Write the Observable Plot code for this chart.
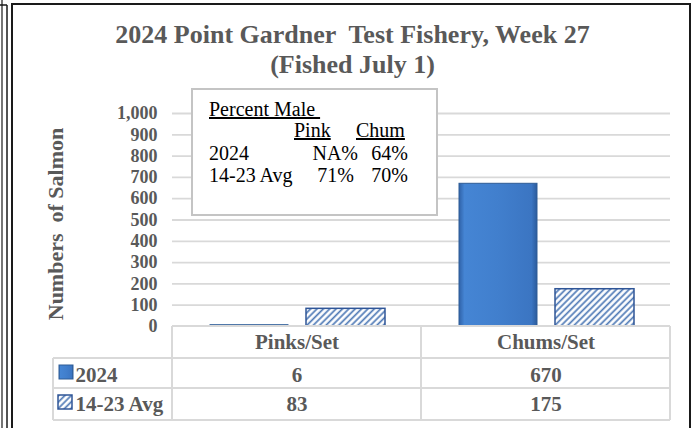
<!DOCTYPE html>
<html><head><meta charset="utf-8">
<script src="https://cdn.jsdelivr.net/npm/d3@7"></script>
<script src="https://cdn.jsdelivr.net/npm/@observablehq/plot@0.6"></script>
<style>
html,body{margin:0;padding:0;background:#fff;}
#chart{width:693px;height:428px;overflow:hidden;}
</style></head><body><div id="chart"></div>
<script>
// ---- data ----
const categories = ["Pinks/Set", "Chums/Set"];
const seriesNames = ["2024", "14-23 Avg"];
const values2024 = [6, 670];
const valuesAvg = [83, 175];
const yTickValues = [0, 100, 200, 300, 400, 500, 600, 700, 800, 900, 1000];
const titleLines = ["2024 Point Gardner  Test Fishery, Week 27", "(Fished July 1)"];
const yLabel = "Numbers  of Salmon";
const pctTitle = "Percent Male ";
const pctSpecies = ["Pink", "Chum"];
const pct2024 = ["NA%", "64%"];
const pctAvg = ["71%", "70%"];

const gray = "#595959";
const serif = "'Liberation Serif','Times New Roman',serif";

const rows2024 = categories.map((c, i) => ({category: c, value: values2024[i]}));
const rowsAvg = categories.map((c, i) => ({category: c, value: valuesAvg[i]}));
const bold = {fontWeight: "bold", fill: gray, fontFamily: serif, lineAnchor: "middle"};

const plot = Plot.plot({
  width: 693, height: 428,
  marginLeft: 172, marginRight: 23, marginTop: 113, marginBottom: 102,
  style: {fontFamily: serif, color: gray, background: "white", fontSize: "18px", fontWeight: "bold", overflow: "visible"},
  x: {domain: categories, padding: 0, axis: null},
  y: {domain: [0, 1000], ticks: yTickValues.length - 1, tickFormat: d3.format(","), tickSize: 0, tickPadding: 15, label: null},
  marks: [
    Plot.ruleY(yTickValues.filter(d => d > 0), {stroke: "#d9d9d9", strokeWidth: 1.8}),
    Plot.barY(rowsAvg, {x: "category", y: "value", fill: "url(#hatchAvg)", stroke: "#2f5597", strokeWidth: 1.5, insetLeft: 134, insetRight: 36}),
    Plot.barY(rows2024, {x: "category", y: "value", fill: "url(#grad2024)", stroke: "#2e5c96", strokeWidth: 1, insetLeft: 38, insetRight: 133}),
    // table: header and values
    Plot.text(categories, {x: d => d, text: d => d, frameAnchor: "bottom", dy: 16, fontSize: 21, ...bold}),
    Plot.text(rows2024, {x: "category", text: d => String(d.value), frameAnchor: "bottom", dy: 48.5, fontSize: 21, ...bold}),
    Plot.text(rowsAvg, {x: "category", text: d => String(d.value), frameAnchor: "bottom", dy: 78, fontSize: 21, ...bold}),
    Plot.text([seriesNames[0]], {text: d => d, frameAnchor: "bottom-left", textAnchor: "start", dx: -97, dy: 48.5, fontSize: 21, ...bold}),
    Plot.text([seriesNames[1]], {text: d => d, frameAnchor: "bottom-left", textAnchor: "start", dx: -97, dy: 78, fontSize: 21, ...bold}),
    // axis label and title
    Plot.text([yLabel], {text: d => d, frameAnchor: "left", textAnchor: "middle", rotate: -90, dx: -117, dy: 4, fontSize: 22, ...bold}),
    Plot.text([titleLines[0]], {text: d => d, frameAnchor: "top", textAnchor: "middle", dx: -69, dy: -78.5, fontSize: 26, ...bold}),
    Plot.text([titleLines[1]], {text: d => d, frameAnchor: "top", textAnchor: "middle", dx: -69, dy: -49, fontSize: 26, ...bold})
  ]
});

const svg = d3.select(plot);
const defs = svg.insert("defs", ":first-child");
const g = defs.append("linearGradient").attr("id", "grad2024").attr("x1", 0).attr("x2", 1).attr("y1", 0).attr("y2", 0);
[[0, "#2f62a8"], [0.07, "#4585d4"], [0.5, "#417fcd"], [0.93, "#3b75c2"], [1, "#2b5b9c"]]
  .forEach(([o, c]) => g.append("stop").attr("offset", o).attr("stop-color", c));
const p = defs.append("pattern").attr("id", "hatchAvg").attr("patternUnits", "userSpaceOnUse")
  .attr("width", 4.5).attr("height", 4.5).attr("patternTransform", "rotate(45)");
p.append("rect").attr("width", 4.5).attr("height", 4.5).attr("fill", "#ffffff");
p.append("line").attr("x1", 1.5).attr("x2", 1.5).attr("y1", 0).attr("y2", 4.5).attr("stroke", "#4d78b5").attr("stroke-width", 1.7);

// table borders from the library's scales
const xs = plot.scale("x"), ys = plot.scale("y");
const bw = xs.bandwidth;
const x0 = xs.apply(categories[0]), x1 = xs.apply(categories[1]), x2 = x1 + bw;
const yTop = ys.apply(0);
const rowH = [32, 30, 32];
const yH = yTop + rowH[0], yR1 = yH + rowH[1], yR2 = yR1 + rowH[2];
const tableLeft = 53;
const tb = svg.append("g").attr("stroke", "#d9d9d9").attr("stroke-width", 2).attr("fill", "none");
const seg = (a, b, c, d) => tb.append("line").attr("x1", a).attr("y1", b).attr("x2", c).attr("y2", d);
seg(x0, yTop, x2, yTop);
seg(tableLeft, yH, x2, yH);
seg(tableLeft, yR1, x2, yR1);
seg(tableLeft, yR2, x2, yR2);
seg(tableLeft, yH, tableLeft, yR2);
seg(x0, yTop, x0, yR2);
seg(x1, yTop, x1, yR2);
seg(x2, yTop, x2, yR2);

// legend keys
svg.append("rect").attr("x", 59).attr("y", 365).attr("width", 14).attr("height", 14)
  .attr("fill", "url(#grad2024)").attr("stroke", "#2e5c96");
svg.append("rect").attr("x", 58).attr("y", 395).attr("width", 14).attr("height", 14)
  .attr("fill", "url(#hatchAvg)").attr("stroke", "#2f5597").attr("stroke-width", 1.5);

// percent male box
const box = svg.append("g").style("font-family", serif).style("font-size", "20px").style("font-weight", "normal").attr("fill", "#000");
box.append("rect").attr("x", 192).attr("y", 89).attr("width", 245).attr("height", 126)
  .attr("fill", "#fff").attr("stroke", "#c4c4c4").attr("stroke-width", 2);
const t = (txt, x, y, anchor, ul) => box.append("text").attr("x", x).attr("y", y)
  .attr("text-anchor", anchor).style("white-space", "pre")
  .style("text-decoration", ul ? "underline" : "none").text(txt);
t(pctTitle, 209, 116, "start", true);
t(pctSpecies[0], 294, 137, "start", true);
t(pctSpecies[1], 356, 137, "start", true);
t(seriesNames[0], 209, 160, "start", false);
t(pct2024[0], 358, 160, "end", false);
t(pct2024[1], 408, 160, "end", false);
t(seriesNames[1], 209, 182, "start", false);
t(pctAvg[0], 354, 182, "end", false);
t(pctAvg[1], 408, 182, "end", false);

// outer frames
const fr = svg.append("g").attr("fill", "none");
fr.append("rect").attr("x", 12).attr("y", 4).attr("width", 678).attr("height", 440).attr("stroke", "#1a1a1a").attr("stroke-width", 2);
fr.append("line").attr("x1", 7).attr("x2", 7).attr("y1", 5).attr("y2", 428).attr("stroke", "#1a1a1a").attr("stroke-width", 1.5);
fr.append("line").attr("x1", 2).attr("x2", 2).attr("y1", 0).attr("y2", 428).attr("stroke", "#1a1a1a").attr("stroke-width", 1.2);
fr.append("line").attr("x1", 0).attr("x2", 7).attr("y1", 5).attr("y2", 5).attr("stroke", "#1a1a1a").attr("stroke-width", 1.5);

document.getElementById("chart").appendChild(plot);
</script></body></html>
